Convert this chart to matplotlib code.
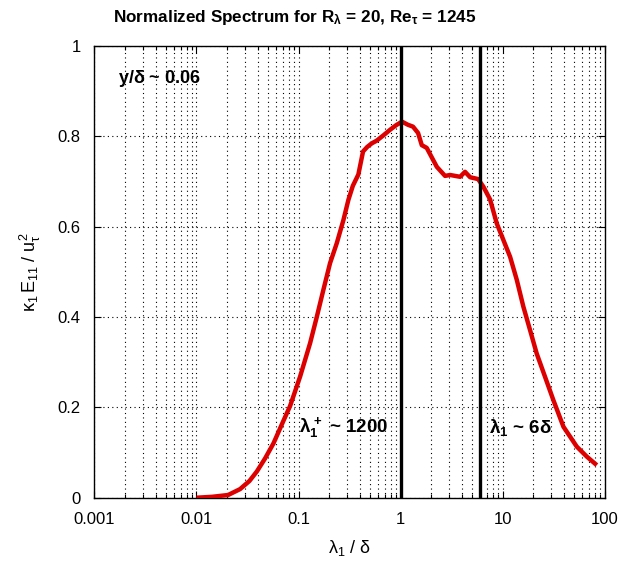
import matplotlib
matplotlib.use("Agg")
import matplotlib.pyplot as plt
from matplotlib.ticker import LogLocator, FixedLocator, NullFormatter, FuncFormatter

plt.rcParams['font.family'] = ['Liberation Sans', 'DejaVu Sans']
plt.rcParams['mathtext.fontset'] = 'custom'
plt.rcParams['mathtext.rm'] = 'Liberation Sans'
plt.rcParams['mathtext.it'] = 'Liberation Sans'
plt.rcParams['mathtext.bf'] = 'Liberation Sans:bold'

# data
wavelength = [0.01, 0.0142, 0.0204, 0.0267, 0.033, 0.039, 0.047, 0.0567, 0.0710,
              0.0826, 0.1035, 0.1297, 0.1508, 0.175, 0.2034, 0.2366, 0.2747, 0.3076,
              0.340, 0.385, 0.428, 0.470, 0.521, 0.583, 0.680, 0.787, 0.90, 1.03,
              1.18, 1.32, 1.48, 1.61, 1.80, 2.26, 2.72, 3.05, 3.82, 4.27, 4.79,
              5.73, 6.46, 7.51, 8.73, 11.8, 13.72, 15.9, 18.5, 21.5, 25.9, 31.3,
              39.3, 53.1, 66.5, 83.4]
spectrum = [0.0, 0.002, 0.006, 0.019, 0.037, 0.058, 0.087, 0.120, 0.170,
            0.203, 0.268, 0.342, 0.400, 0.460, 0.519, 0.563, 0.614, 0.659,
            0.690, 0.715, 0.766, 0.776, 0.784, 0.790, 0.802, 0.814, 0.824, 0.832,
            0.825, 0.821, 0.807, 0.780, 0.774, 0.732, 0.712, 0.714, 0.710, 0.721, 0.709,
            0.705, 0.688, 0.660, 0.607, 0.533, 0.482, 0.423, 0.371, 0.319, 0.268, 0.216,
            0.157, 0.113, 0.091, 0.072]
marker_lines = [1.0, 6.0]
x_ticks = [0.001, 0.01, 0.1, 1, 10, 100]
x_tick_labels = ["0.001", "0.01", "0.1", "1", "10", "100"]
y_ticks = [0, 0.2, 0.4, 0.6, 0.8, 1]
y_tick_labels = ["0", "0.2", "0.4", "0.6", "0.8", "1"]

fig = plt.figure(figsize=(6.21, 5.61), dpi=100)
ax = fig.add_axes([0.152, 0.1128, 0.822, 0.8057])

ax.set_xscale('log')
ax.set_xlim(0.001, 100)
ax.set_ylim(0, 1)

ax.plot(wavelength, spectrum, color='#dd0000', lw=3.2, solid_joinstyle='round',
        solid_capstyle='butt', zorder=3)
for xv in marker_lines:
    ax.axvline(xv, color='black', lw=2.4, zorder=4)

ax.xaxis.set_major_locator(FixedLocator(x_ticks))
ax.xaxis.set_major_formatter(FuncFormatter(lambda v, p: x_tick_labels[x_ticks.index(v)] if v in x_ticks else ""))
ax.xaxis.set_minor_locator(LogLocator(base=10, subs=range(2, 10)))
ax.xaxis.set_minor_formatter(NullFormatter())
ax.set_yticks(y_ticks)
ax.set_yticklabels(y_tick_labels)

ax.tick_params(which='both', direction='in', top=True, right=True, labelsize=12, pad=10)
ax.tick_params(which='major', length=5, width=0.8)
ax.tick_params(which='minor', length=3, width=0.8)

grid_style = dict(color='black', linestyle=(0, (1, 3)), lw=0.8)
ax.grid(True, which='major', axis='both', **grid_style)
ax.grid(True, which='minor', axis='x', **grid_style)
ax.set_axisbelow(True)
for s in ax.spines.values():
    s.set_linewidth(1.0)

fig.text(0.474, 0.968, r"Normalized Spectrum for $\mathbf{R_{\lambda}}$ = 20, $\mathbf{Re_{\tau}}$ = 1245",
         fontsize=12.3, fontweight='bold', ha='center', va='center')
ax.set_xlabel(r"$\lambda_1$ / $\delta$", fontsize=13, labelpad=8)
ax.set_ylabel(r"$\kappa_1\,E_{11}$ / $u_{\tau}^{2}$", fontsize=13, labelpad=10)

ax.text(0.0017, 0.928, r"y/$\mathbf{\delta}$ ~ 0.06", fontsize=13, fontweight='bold',
        ha='left', va='center')
ax.text(0.1, 0.155, r"$\mathbf{\lambda_1^{\,+}}$ ~ 1200", fontsize=13.5, fontweight='bold',
        ha='left', va='center')
ax.text(7.3, 0.155, r"$\mathbf{\lambda_1}$ ~ 6$\mathbf{\delta}$", fontsize=13.5, fontweight='bold',
        ha='left', va='center')

fig.savefig("out.png", dpi=100)
